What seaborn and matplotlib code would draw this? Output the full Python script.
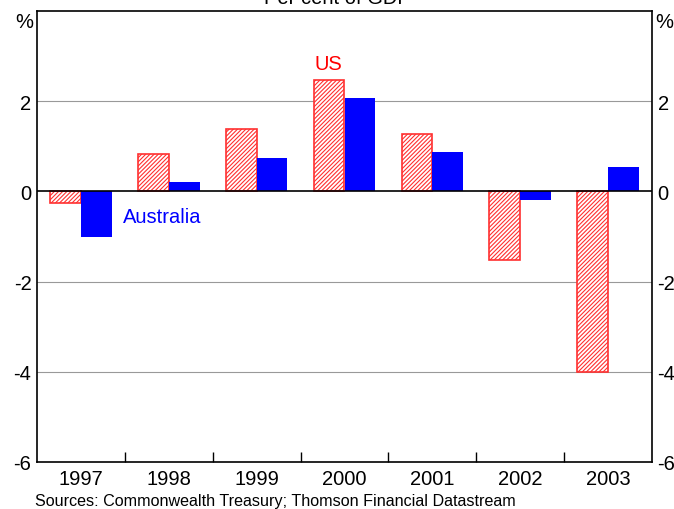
import pandas as pd
import matplotlib
matplotlib.use("Agg")
import matplotlib.pyplot as plt
import seaborn as sns

# Data (per cent of GDP)
years = ["1997", "1998", "1999", "2000", "2001", "2002", "2003"]
us = [-0.25, 0.82, 1.39, 2.46, 1.28, -1.53, -4.0]
australia = [-1.02, 0.2, 0.73, 2.08, 0.88, -0.18, 0.53]

df = pd.DataFrame({
    "year": years * 2,
    "value": us + australia,
    "series": ["US"] * len(years) + ["Australia"] * len(years),
})

sns.set_theme(style="white")
plt.rcParams["font.family"] = ["Liberation Sans", "DejaVu Sans"]
plt.rcParams["hatch.linewidth"] = 0.8
plt.rcParams["axes.unicode_minus"] = False
plt.rcParams["text.color"] = "black"
plt.rcParams["xtick.color"] = "black"
plt.rcParams["ytick.color"] = "black"

fig = plt.figure(figsize=(6.74, 5.10), dpi=100)
ax = fig.add_axes([37 / 674, 1 - 463 / 510, 615 / 674, 451 / 510])

sns.barplot(data=df, x="year", y="value", hue="series", hue_order=["US", "Australia"],
            palette={"US": "white", "Australia": "#0000ff"}, width=0.7,
            saturation=1, legend=False, ax=ax)

# US bars: white with red hatching
for p in ax.containers[0]:
    p.set_facecolor("white")
    p.set_edgecolor("#ff3030")
    p.set_hatch("////////")
    p.set_linewidth(1.2)
for p in ax.containers[1]:
    p.set_edgecolor("#0000ff")
    p.set_linewidth(0)

ax.set_ylim(-6, 4)
ax.set_xlim(-0.5, len(years) - 0.5)
ax.set_yticks([-6, -4, -2, 0, 2])
for y in [-4, -2, 2]:
    ax.axhline(y, color="#999999", lw=0.8, zorder=0)
ax.axhline(0, color="black", lw=1.2, zorder=3)

ax.set_xlabel("")
ax.set_ylabel("")
ax.set_xticks([i + 0.5 for i in range(len(years) - 1)], minor=True)
ax.set_xticks(range(len(years)))
ax.set_xticklabels(years)
ax.tick_params(axis="x", which="major", length=0, labelsize=14.5, pad=5)
ax.tick_params(axis="x", which="minor", direction="in", length=7, width=1, color="black", bottom=True)
ax.tick_params(axis="y", length=0, labelsize=14.5, pad=4)
for s in ax.spines.values():
    s.set_color("black")
    s.set_linewidth(1.2)

ax2 = ax.twinx()
ax2.set_ylim(-6, 4)
ax2.set_yticks([-6, -4, -2, 0, 2])
ax2.tick_params(axis="y", length=0, labelsize=14.5, pad=4)
for s in ax2.spines.values():
    s.set_visible(False)

fig.text(24 / 674, 1 - 22 / 510, "%", fontsize=14.5, ha="center", va="center")
fig.text(664 / 674, 1 - 22 / 510, "%", fontsize=14.5, ha="center", va="center")
fig.text(0.5, 1 - (-2) / 510, "Per cent of GDP", fontsize=14.5, ha="center", va="center")

ax.text(2.82, 2.83, "US", color="#ff0000", fontsize=14.5, ha="center", va="center")
ax.text(0.48, -0.55, "Australia", color="#0000ff", fontsize=14.5, ha="left", va="center")

fig.text(35 / 674, 1 - 502 / 510, "Sources: Commonwealth Treasury; Thomson Financial Datastream",
         fontsize=11.6, ha="left", va="center")

fig.savefig("out.png", dpi=100)
